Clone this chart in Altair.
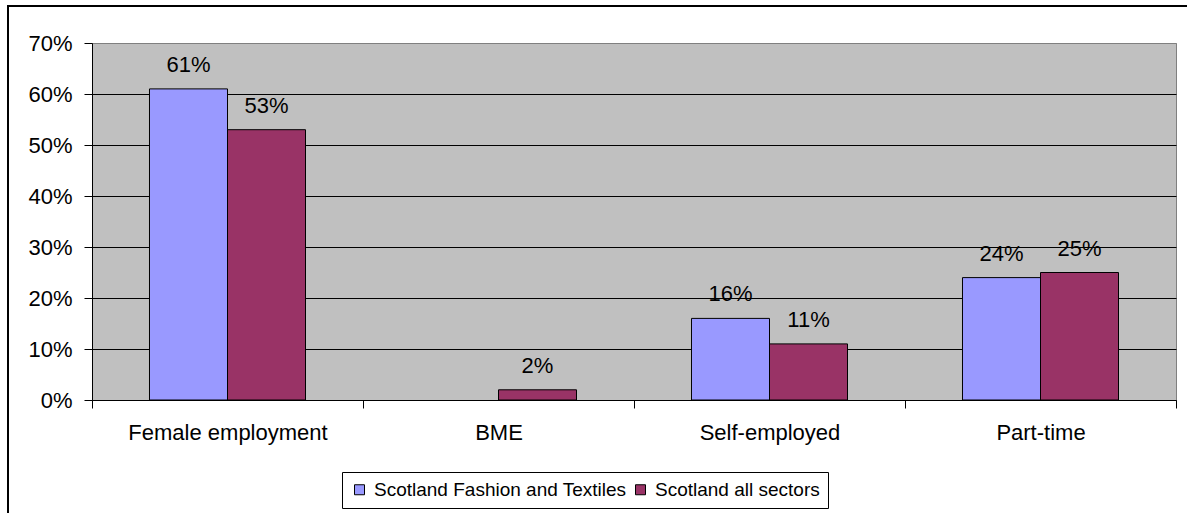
import altair as alt
import pandas as pd

categories = ["Female employment", "BME", "Self-employed", "Part-time"]
series_names = ["Scotland Fashion and Textiles", "Scotland all sectors"]
fashion_values = [0.61, None, 0.16, 0.24]
all_sectors_values = [0.53, 0.02, 0.11, 0.25]
y_ticks = [0, 0.1, 0.2, 0.3, 0.4, 0.5, 0.6, 0.7]
colors = ["#9999FF", "#993366"]

rows = []
for cat, f, a in zip(categories, fashion_values, all_sectors_values):
    if f is not None:
        rows.append({"category": cat, "series": series_names[0], "value": f})
    if a is not None:
        rows.append({"category": cat, "series": series_names[1], "value": a})
df = pd.DataFrame(rows)

FONT = "Liberation Sans"

x_enc = alt.X(
    "category:N",
    sort=categories,
    scale=alt.Scale(paddingInner=0, paddingOuter=0),
    axis=alt.Axis(
        title=None, labelAngle=0, tickBand="extent", tickSize=8,
        tickColor="black", domainColor="black", labelFontSize=22,
        labelFont=FONT, labelColor="black", labelPadding=14, grid=False,
        labelLimit=0,
    ),
)
xoff_enc = alt.XOffset(
    "series:N", sort=series_names,
    scale=alt.Scale(domain=series_names, paddingInner=0, paddingOuter=0.737),
)
y_enc = alt.Y(
    "value:Q",
    scale=alt.Scale(domain=[0, 0.7], nice=False),
    axis=alt.Axis(
        title=None, values=y_ticks, format=".0%", tickSize=8,
        tickColor="black", domainColor="black", labelFontSize=22,
        labelFont=FONT, labelColor="black", labelPadding=12,
        grid=True,
        gridColor={"condition": {"test": "datum.value >= 0.69", "value": "#808080"}, "value": "black"},
        gridOpacity=1, gridWidth=1,
    ),
)

bars = alt.Chart(df).mark_bar(stroke="black", strokeWidth=1).encode(
    x=x_enc,
    xOffset=xoff_enc,
    y=y_enc,
    color=alt.Color(
        "series:N",
        scale=alt.Scale(domain=series_names, range=colors),
        legend=alt.Legend(
            title=None, orient="none", legendX=250, legendY=429,
            direction="horizontal", strokeColor="black", padding=8,
            fillColor="white", symbolType="square", symbolSize=100,
            symbolStrokeColor="black", symbolStrokeWidth=1,
            labelFontSize=19, labelFont=FONT, labelColor="black",
            labelOffset=5, columnPadding=4, symbolOpacity=1,
            labelLimit=0,
        ),
    ),
)

labels = alt.Chart(df).mark_text(
    dy=-17, baseline="alphabetic", fontSize=22, font=FONT, color="black"
).encode(
    x=alt.X("category:N", sort=categories),
    xOffset=alt.XOffset("series:N", sort=series_names),
    y=alt.Y("value:Q"),
    text=alt.Text("value:Q", format=".0%"),
)

frame_df = pd.DataFrame({"k": [0]})
frame = alt.Chart(frame_df).mark_rect(
    fill=None, stroke="black", strokeWidth=2
).encode(
    x=alt.value(-84), x2=alt.value(1110), y=alt.value(-37), y2=alt.value(490)
)

chart = alt.layer(bars, labels, frame).properties(
    width=1084, height=357,
    autosize=alt.AutoSizeParams(type="none"),
    padding={"left": 92, "top": 43, "right": 11, "bottom": 113},
    background="white",
).configure_view(
    fill="#C0C0C0", stroke="#808080", strokeWidth=1
)

chart.save("out.html", embed_options={"renderer": "svg", "actions": False})
